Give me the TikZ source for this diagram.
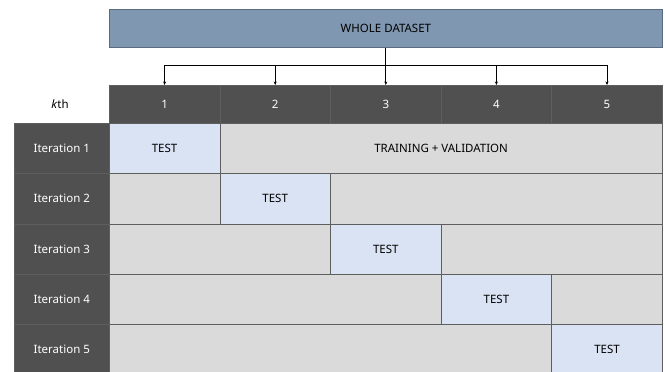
\documentclass[tikz,border=0pt]{standalone}
\usepackage{fontspec}
\setmainfont{Noto Sans}
\usetikzlibrary{arrows.meta}
\definecolor{darkcell}{HTML}{505050}
\definecolor{graycell}{HTML}{DADADA}
\definecolor{bluecell}{HTML}{D9E3F3}
\definecolor{topbox}{HTML}{8097B1}
\definecolor{topline}{HTML}{5A6A80}
\definecolor{gridline}{HTML}{5E5E5E}
\begin{document}
\begin{tikzpicture}[x=1pt,y=-1pt,
  cell/.style={draw=gridline,line width=0.6pt,minimum height=50.3pt,inner sep=0pt,font=\fontsize{11.5}{13}\selectfont,anchor=north west},
  hdr/.style={cell,fill=darkcell,text=white,minimum height=38pt},
  lbl/.style={cell,fill=darkcell,text=white,minimum width=95pt},
  gcell/.style={cell,fill=graycell},
  tcell/.style={cell,fill=bluecell},
  arr/.style={-{Stealth[length=3.5pt,width=3pt]},line width=1pt,black}]
\useasboundingbox (0,0) rectangle (665,372);
\fill[white] (0,0) rectangle (665,372);
\node[draw=topline,fill=topbox,line width=0.8pt,minimum width=553pt,minimum height=38pt,inner sep=0pt,anchor=north west,font=\fontsize{11.5}{13}\selectfont] (whole) at (109,9) {WHOLE DATASET};
\node[font=\fontsize{11.5}{13}\selectfont] (kth) at (60,104) {\textit{k}th};
\foreach \i in {1,...,5}{
  \node[hdr,minimum width=110.6pt] (h\i) at ({109+(\i-1)*110.6},85) {\i};
}
\coordinate (split) at (whole.south |- 0,65);
\draw[line width=1pt] (whole.south) -- (split);
\draw[line width=1pt] (h1.north |- split) -- (h5.north |- split);
\foreach \i in {1,...,5}{
  \draw[arr] (h\i.north |- split) -- (h\i.north);
}
% rows
\foreach \r in {1,...,5}{
  \node[lbl] (it\r) at (14,{123+(\r-1)*50.3}) {Iteration \r};
}
% row 1
\node[tcell,minimum width=110.6pt] (t1) at (109,123) {TEST};
\node[gcell,minimum width=442.4pt] (g1b) at (219.6,123) {TRAINING + VALIDATION};
% row 2
\node[gcell,minimum width=110.6pt] (g2a) at (109,173.3) {};
\node[tcell,minimum width=110.6pt] (t2) at (219.6,173.3) {TEST};
\node[gcell,minimum width=331.8pt] (g2b) at (330.2,173.3) {};
% row 3
\node[gcell,minimum width=221.2pt] (g3a) at (109,223.6) {};
\node[tcell,minimum width=110.6pt] (t3) at (330.2,223.6) {TEST};
\node[gcell,minimum width=221.2pt] (g3b) at (440.8,223.6) {};
% row 4
\node[gcell,minimum width=331.8pt] (g4a) at (109,273.9) {};
\node[tcell,minimum width=110.6pt] (t4) at (440.8,273.9) {TEST};
\node[gcell,minimum width=110.6pt] (g4b) at (551.4,273.9) {};
% row 5
\node[gcell,minimum width=442.4pt] (g5a) at (109,324.2) {};
\node[tcell,minimum width=110.6pt] (t5) at (551.4,324.2) {TEST};
\end{tikzpicture}
\end{document}
